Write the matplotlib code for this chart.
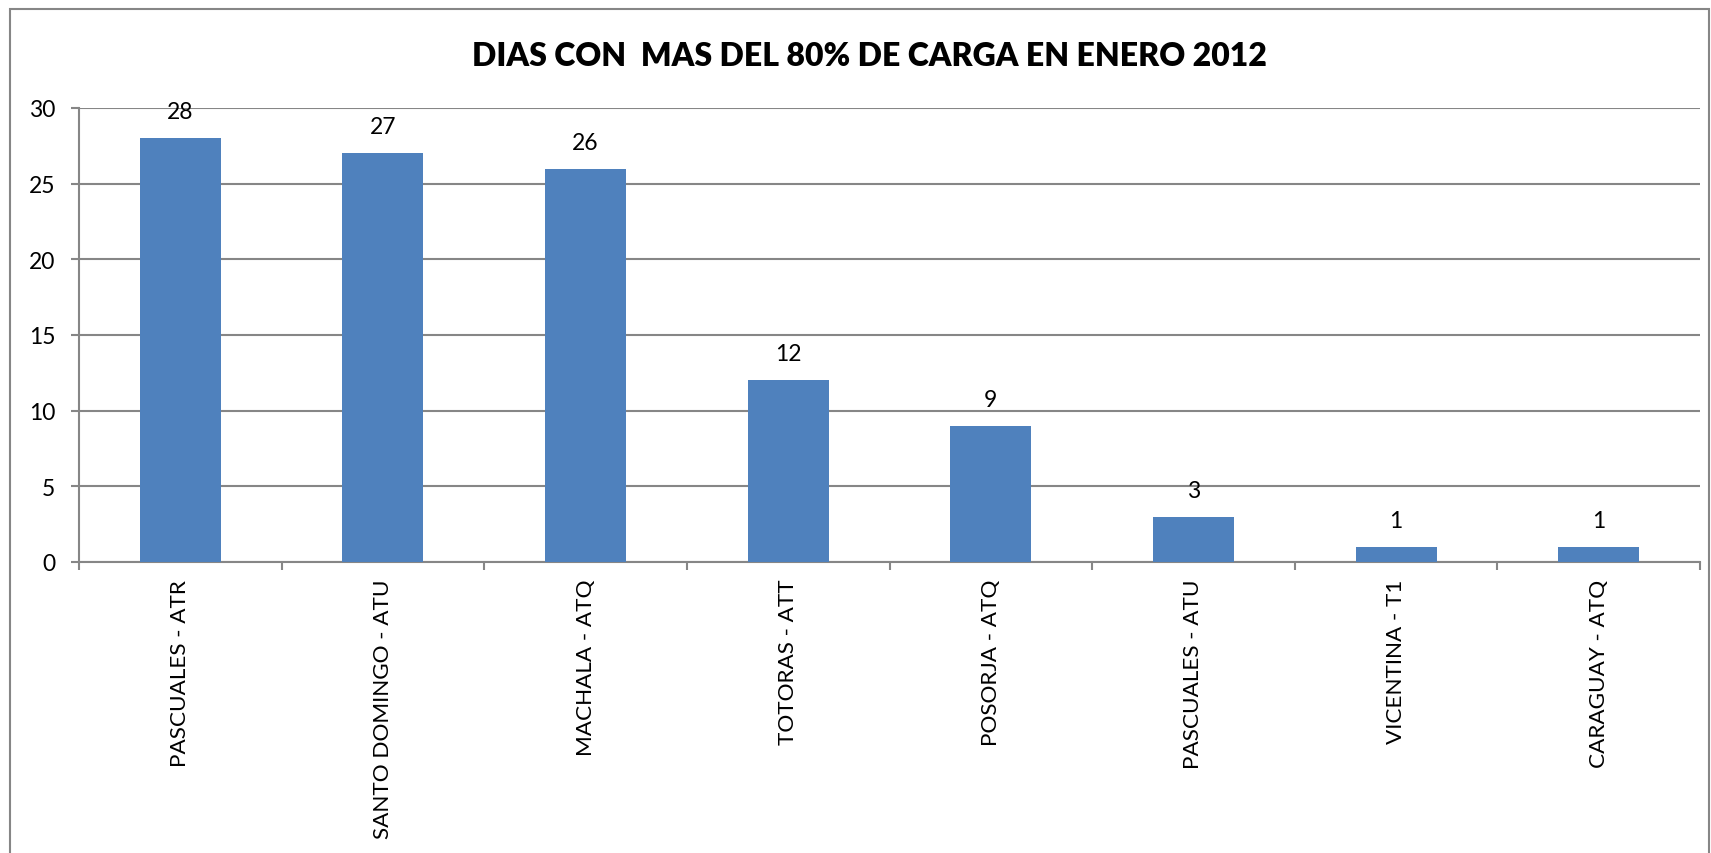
import matplotlib
matplotlib.use("Agg")
import matplotlib.pyplot as plt
from matplotlib.patches import Rectangle
import numpy as np

categories = ["PASCUALES - ATR", "SANTO DOMINGO - ATU", "MACHALA - ATQ", "TOTORAS - ATT",
              "POSORJA - ATQ", "PASCUALES - ATU", "VICENTINA - T1", "CARAGUAY - ATQ"]
values = [28, 27, 26, 12, 9, 3, 1, 1]
yticks = [0, 5, 10, 15, 20, 25, 30]
title = "DIAS CON  MAS DEL 80% DE CARGA EN ENERO 2012"

W, H = 1711, 854
fig = plt.figure(figsize=(W / 100, H / 100), dpi=100)
ax = fig.add_axes([79 / W, 1 - 563 / H, (1700 - 79) / W, (563 - 109) / H])

gray = "#868686"
x = np.arange(len(categories))
ax.bar(x, values, width=0.4, color="#4F81BD", zorder=3)
ax.set_xlim(-0.5, len(categories) - 0.5)
ax.set_ylim(0, 30)
ax.set_yticks(yticks)
ax.yaxis.grid(True, color=gray, linewidth=1.5, zorder=0)
ax.set_axisbelow(True)

for s in ["top", "right"]:
    ax.spines[s].set_visible(False)
for s in ["left", "bottom"]:
    ax.spines[s].set_color(gray)
    ax.spines[s].set_linewidth(1.5)

ax.tick_params(axis="y", direction="out", length=6, width=1.5, color=gray, pad=11,
               labelsize=16.5)
for lab in ax.get_yticklabels():
    lab.set_fontfamily("Lato")

ax.set_xticks(x)
ax.set_xticklabels(categories, rotation=90, fontsize=16.2, fontfamily="Lato", va="top")
ax.tick_params(axis="x", which="major", length=0, pad=12)
ax.set_xticks(np.arange(len(categories) + 1) - 0.5, minor=True)
ax.tick_params(axis="x", which="minor", direction="out", length=6, width=1.5, color=gray)

for xi, v in zip(x, values):
    ax.annotate(str(v), (xi, v), xytext=(0, 11.5), textcoords="offset points",
                ha="center", va="bottom", fontsize=16.5, fontfamily="Lato")

fig.text(869 / W, 1 - 57 / H, title, ha="center", va="center", fontsize=23,
         fontweight="heavy", fontfamily="Lato")

border = Rectangle((10 / W, -0.05), (1709 - 10) / W, 1 - 10 / H + 0.05,
                   transform=fig.transFigure, fill=False, edgecolor=gray,
                   linewidth=1.5, clip_on=False)
fig.patches.append(border)

fig.savefig("out.png", dpi=100, facecolor="white")
